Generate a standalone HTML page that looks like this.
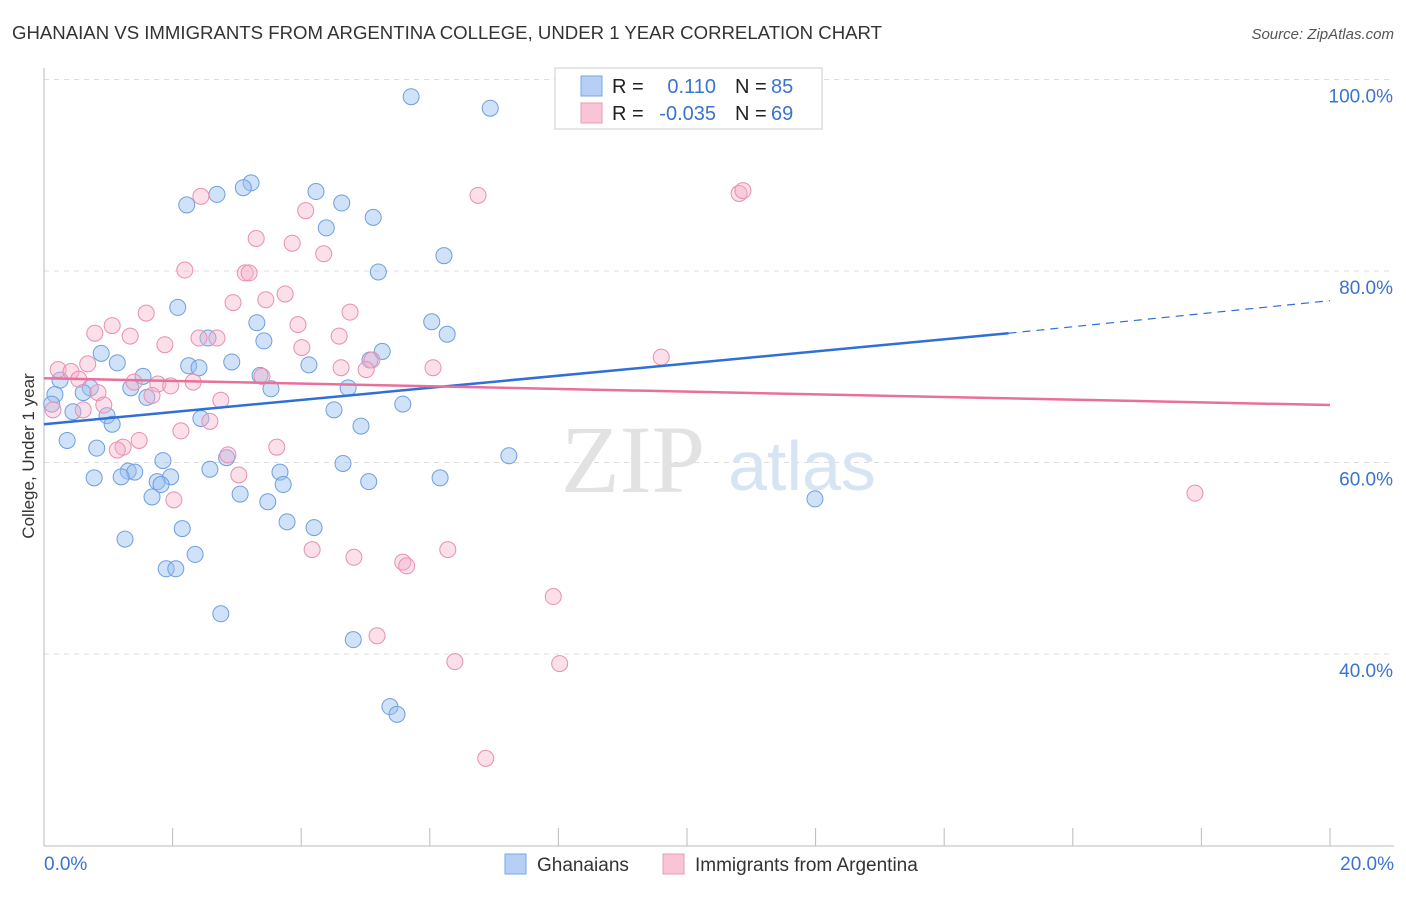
<!DOCTYPE html>
<html><head><meta charset="utf-8"><style>
body{margin:0;background:#fff;font-family:"Liberation Sans",sans-serif;}
svg text{font-family:"Liberation Sans",sans-serif;}
</style></head><body>
<svg id="chart" width="1406" height="892">
<text x="12" y="39" font-size="18" fill="#333" textLength="870" lengthAdjust="spacingAndGlyphs">GHANAIAN VS IMMIGRANTS FROM ARGENTINA COLLEGE, UNDER 1 YEAR CORRELATION CHART</text>
<text x="1394" y="39" font-size="15" fill="#555" font-style="italic" text-anchor="end">Source: ZipAtlas.com</text>
<text x="34" y="456" font-size="17" fill="#333" text-anchor="middle" transform="rotate(-90 34 456)">College, Under 1 year</text>
<g id="grid"></g>
<text x="633" y="492" font-size="96" fill="#e2e2e2" style="font-family:'Liberation Serif',serif" text-anchor="middle">ZIP</text>
<text x="802" y="490" font-size="70" fill="#d6e4f4" text-anchor="middle">atlas</text>
<g id="points"></g>
<g id="lines"></g>
<g>
<rect x="555" y="68" width="267" height="61" fill="#fff" stroke="#ccc"/>
<rect x="581" y="76" width="21" height="20" fill="#b5d0f4" stroke="#7aa6e4"/>
<rect x="581" y="103" width="21" height="20" fill="#f8c4d6" stroke="#eb9ab6"/>
<text x="612" y="93" font-size="20" fill="#222">R =</text>
<text x="716" y="93" font-size="20" fill="#3a73d0" text-anchor="end">0.110</text>
<text x="735" y="93" font-size="20" fill="#222">N =</text><text x="771" y="93" font-size="20" fill="#3a73d0">85</text>
<text x="612" y="120" font-size="20" fill="#222">R =</text>
<text x="716" y="120" font-size="20" fill="#3a73d0" text-anchor="end">-0.035</text>
<text x="735" y="120" font-size="20" fill="#222">N =</text><text x="771" y="120" font-size="20" fill="#3a73d0">69</text>
</g>
<g>
<rect x="505" y="854" width="21" height="20" fill="#b5d0f4" stroke="#7aa6e4"/>
<text x="537" y="871" font-size="19" fill="#333">Ghanaians</text>
<rect x="663" y="854" width="21" height="20" fill="#f8c4d6" stroke="#eb9ab6"/>
<text x="695" y="871" font-size="19" fill="#333">Immigrants from Argentina</text>
</g>
</svg>
<script>
const xTicks=[0,2,4,6,8,10,12,14,16,18,20];
const yTicks=[40,60,80,100];
const blueX=[5.71,6.94,3.22,3.10,4.23,2.69,2.22,4.63,5.12,4.39,6.22,5.20,2.08,6.03,3.31,6.27,2.55,3.42,5.26,0.89,1.14,2.92,2.25,2.41,4.12,5.07,1.54,3.36,0.25,0.72,0.61,1.35,3.53,4.73,0.17,1.60,5.58,0.12,0.45,0.98,1.06,4.51,2.44,4.93,0.36,0.82,2.84,7.23,1.85,4.65,2.58,1.31,1.41,3.67,0.78,1.20,1.97,6.16,1.76,3.72,5.05,1.82,1.68,3.05,3.48,11.99,3.78,4.20,2.15,1.26,2.35,1.90,2.05,2.75,4.81,5.38,5.49];
const blueY=[98.2,97.0,89.2,88.7,88.3,88.0,86.9,87.1,85.6,84.5,81.6,79.9,76.2,74.7,74.6,73.4,73.0,72.7,71.6,71.4,70.4,70.5,70.1,69.9,70.2,70.7,69.0,69.1,68.6,67.8,67.3,67.8,67.7,67.8,67.1,66.8,66.1,66.1,65.3,64.9,64.0,65.5,64.6,63.8,62.3,61.5,60.5,60.7,60.2,59.9,59.3,59.1,59.0,59.0,58.4,58.5,58.5,58.4,58.0,57.7,58.0,57.7,56.4,56.7,55.9,56.2,53.8,53.2,53.1,52.0,50.4,48.9,48.9,44.2,41.5,34.5,33.7];
const pinkX=[8.93,8.20,10.81,10.87,6.75,2.44,4.07,3.30,3.86,4.35,2.19,3.13,3.19,3.75,2.94,3.45,1.59,4.76,1.06,3.95,0.79,1.34,2.41,2.69,4.59,1.88,4.01,9.60,0.68,5.10,0.22,0.42,4.62,5.01,6.05,3.39,0.54,1.40,2.32,1.77,1.97,0.84,1.68,2.75,0.93,0.14,0.61,2.58,2.13,1.48,3.62,1.23,1.14,2.86,3.03,2.02,17.90,4.17,6.28,4.82,5.58,5.64,7.92,5.18,6.39,8.02,6.87];
const pinkY=[99.7,97.0,88.1,88.4,87.9,87.8,86.3,83.4,82.9,81.8,80.1,79.8,79.8,77.6,76.7,77.0,75.6,75.7,74.3,74.4,73.5,73.2,73.0,73.0,73.2,72.3,72.0,71.0,70.3,70.7,69.7,69.5,69.9,69.7,69.9,69.0,68.7,68.4,68.4,68.2,68.0,67.3,67.0,66.5,66.0,65.5,65.5,64.3,63.3,62.3,61.6,61.6,61.3,60.8,58.7,56.1,56.8,50.9,50.9,50.1,49.6,49.2,46.0,41.9,39.2,39.0,29.1];
const blueTrend=[64.0,73.5,76.9];
const pinkTrend=[68.8,66.0];
const NS='http://www.w3.org/2000/svg';
const sx=v=>44+v*64.3, sy=v=>79.5+(100-v)*9.575;
function mk(t,a,p){const e=document.createElementNS(NS,t);for(const k in a)e.setAttribute(k,a[k]);p.appendChild(e);return e;}
const grid=document.getElementById('grid');
yTicks.forEach(t=>{
 const l=mk('line',{x1:44,x2:1394,y1:sy(t),y2:sy(t),stroke:'#ddd','stroke-dasharray':'5,5'},grid);
 
 
 const tx=mk('text',{x:1393,y:sy(t)+23,'font-size':19,fill:'#3a73d0','text-anchor':'end'},grid);
 tx.textContent=t.toFixed(1)+'%';
 
 
});
mk('line',{x1:44,x2:44,y1:68,y2:846,stroke:'#bbb'},grid);
mk('line',{x1:44,x2:1394,y1:846,y2:846,stroke:'#bbb'},grid);
xTicks.forEach(t=>{
 const l=mk('line',{x1:sx(t),x2:sx(t),y1:828,y2:846,stroke:'#bbb'},grid);
 
 
});
[[0,'0.0%','start',44],[20,'20.0%','end',1394]].forEach(([v,s,a,x])=>{
 const tx=mk('text',{x:x,y:870,'font-size':19,fill:'#3a73d0','text-anchor':a},grid);
 tx.textContent=s;
 
 
});
const pts=document.getElementById('points');
blueX.forEach((x,i)=>{
 const c=mk('circle',{cx:sx(x),cy:sy(blueY[i]),r:8,fill:'rgba(150,190,240,0.45)',stroke:'#6f9ee0','stroke-width':1},pts);
 
 
});
pinkX.forEach((x,i)=>{
 const c=mk('circle',{cx:sx(x),cy:sy(pinkY[i]),r:8,fill:'rgba(245,175,200,0.4)',stroke:'#e98fb0','stroke-width':1},pts);
 
 
});
const ln=document.getElementById('lines');
const b1=mk('line',{x1:sx(0),y1:sy(blueTrend[0]),x2:sx(15),y2:sy(blueTrend[1]),stroke:'#2f6fd6','stroke-width':2.5},ln);


const b2=mk('line',{x1:sx(15),y1:sy(blueTrend[1]),x2:sx(20),y2:sy(blueTrend[2]),stroke:'#2f6fd6','stroke-width':1.2,'stroke-dasharray':'8,6'},ln);


const p1=mk('line',{x1:sx(0),y1:sy(pinkTrend[0]),x2:sx(20),y2:sy(pinkTrend[1]),stroke:'#e8709a','stroke-width':2.5},ln);


</script>
</body></html>
